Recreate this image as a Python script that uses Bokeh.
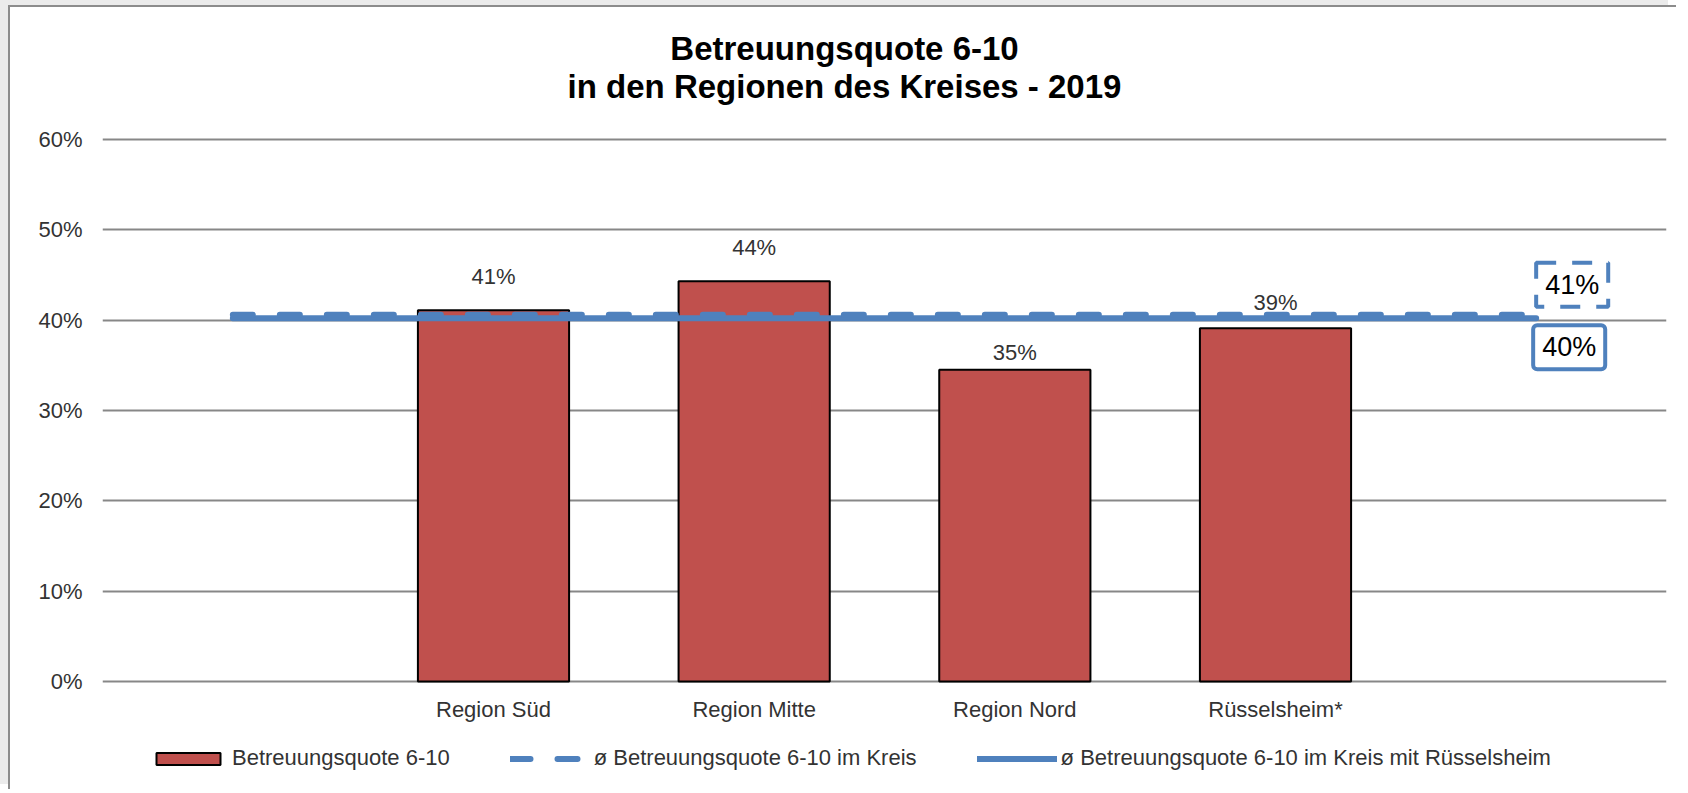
from bokeh.plotting import figure
from bokeh.models import (FactorRange, Range1d, FixedTicker, Legend, LegendItem,
                          Label, LabelSet, ColumnDataSource, NumeralTickFormatter)
from bokeh.core.properties import value
from bokeh.embed import file_html
from bokeh.resources import INLINE

# ---------------- data ----------------
slots = [" ", "Region Süd", "Region Mitte", "Region Nord", "Rüsselsheim*", "  "]
categories = ["Region Süd", "Region Mitte", "Region Nord", "Rüsselsheim*"]
quote = [0.411, 0.443, 0.345, 0.391]
quote_labels = ["41%", "44%", "35%", "39%"]
kreis_avg = [0.406, 0.406, 0.406, 0.406, 0.406, 0.406]
kreis_avg_label = "41%"
kreis_rues_avg = [0.402, 0.402, 0.402, 0.402, 0.402, 0.402]
kreis_rues_avg_label = "40%"
y_ticks = [0.0, 0.1, 0.2, 0.3, 0.4, 0.5, 0.6]
series_names = ["Betreuungsquote 6-10",
                "ø Betreuungsquote 6-10 im Kreis",
                "ø Betreuungsquote 6-10 im Kreis mit Rüsselsheim"]
title_lines = ["Betreuungsquote 6-10", "in den Regionen des Kreises - 2019"]

# ---------------- style ----------------
FONT = "Liberation Sans"
BAR = "#c0504d"
BLUE = "#4f81bd"
GRID = "#878787"
TXT = "#333333"
label_lift_px = [34, 34, 17, 26]
PX_PER_UNIT = 542 / 0.6          # plot area: 0% .. 60% spans 542 px
TOP_PAD_PX, BOTTOM_PAD_PX = 132, 110

p = figure(width=1668, height=784, x_range=FactorRange(*slots),
           y_range=Range1d(-BOTTOM_PAD_PX / PX_PER_UNIT, y_ticks[-1] + TOP_PAD_PX / PX_PER_UNIT),
           output_backend="svg", toolbar_location=None, title=None,
           min_border_left=92, min_border_right=12, min_border_top=0, min_border_bottom=0)
p.styles = {"margin-left": "8px", "margin-top": "5px",
            "border-top": "2px solid #8c8c8c", "border-left": "2px solid #8c8c8c",
            "box-shadow": "-8px -5px 0 0 #ebebeb"}
p.outline_line_color = None
p.background_fill_color = "white"
p.border_fill_color = "white"

# axes
p.xaxis.visible = False
p.yaxis.ticker = FixedTicker(ticks=y_ticks)
p.yaxis.formatter = NumeralTickFormatter(format="0%")
p.yaxis.axis_line_color = None
p.yaxis.major_tick_line_color = None
p.yaxis.minor_tick_line_color = None
p.yaxis.major_tick_out = 0
p.yaxis.major_label_standoff = 20
p.yaxis.major_label_text_font = FONT
p.yaxis.major_label_text_font_size = "22px"
p.yaxis.major_label_text_color = TXT

p.xgrid.grid_line_color = None
p.ygrid.ticker = FixedTicker(ticks=y_ticks)
p.ygrid.grid_line_color = GRID
p.ygrid.grid_line_width = 2

# titles
for line, dy in zip(title_lines, [91, 53]):
    p.add_layout(Label(x=3.0, y=y_ticks[-1], text=line, x_offset=-40, y_offset=dy,
                       text_align="center", text_baseline="middle", text_font=FONT,
                       text_font_size="33px", text_font_style="bold", text_color="black"))

# category labels
cat_src = ColumnDataSource(dict(cat=categories))
p.add_layout(LabelSet(x="cat", y=0, text="cat", y_offset=-28, source=cat_src,
                      text_align="center", text_baseline="middle", text_font=value(FONT),
                      text_font_size="22px", text_color=TXT))

# bars
src = ColumnDataSource(dict(cat=categories, val=quote, lab=quote_labels, lift=label_lift_px))
bars = p.vbar(x="cat", top="val", width=0.58, source=src, fill_color=BAR,
              line_color="black", line_width=2)
p.add_layout(LabelSet(x="cat", y="val", text="lab", y_offset="lift", source=src,
                      text_align="center", text_baseline="middle", text_font=value(FONT),
                      text_font_size="22px", text_color=TXT))

# average lines
solid = p.line(slots, kreis_rues_avg, line_color=BLUE, line_width=6, line_cap="round")
dashed = p.line(slots, kreis_avg, line_color=BLUE, line_width=6, line_dash="20 27",
                line_cap="round")

# end labels for lines
p.add_layout(Label(x=5.5, y=kreis_avg[-1], text=kreis_avg_label, x_offset=0, y_offset=30,
                   text_align="left", text_baseline="middle", text_font=FONT,
                   text_font_size="27px", text_color="black",
                   background_fill_color="white", border_line_color=BLUE,
                   border_line_width=4, border_line_dash="20 16", padding=(9, 7)))
p.add_layout(Label(x=5.5, y=kreis_rues_avg[-1], text=kreis_rues_avg_label, x_offset=-3,
                   y_offset=-29, text_align="left", text_baseline="middle", text_font=FONT,
                   text_font_size="27px", text_color="black",
                   background_fill_color="white", border_line_color=BLUE,
                   border_line_width=4, border_radius=4, padding=(9, 7)))

# legend (inside the drawing area, below the category labels)
legend = Legend(items=[LegendItem(label=series_names[0], renderers=[bars]),
                       LegendItem(label=series_names[1], renderers=[dashed]),
                       LegendItem(label=series_names[2], renderers=[solid])],
                orientation="horizontal", location=(46, 20), glyph_width=80, glyph_height=15,
                label_standoff=4, spacing=60, padding=0, margin=0,
                border_line_color=None, background_fill_alpha=0,
                label_text_font=FONT, label_text_font_size="22px", label_text_color=TXT)
p.add_layout(legend)

open("out.html", "w").write(file_html(p, INLINE))
